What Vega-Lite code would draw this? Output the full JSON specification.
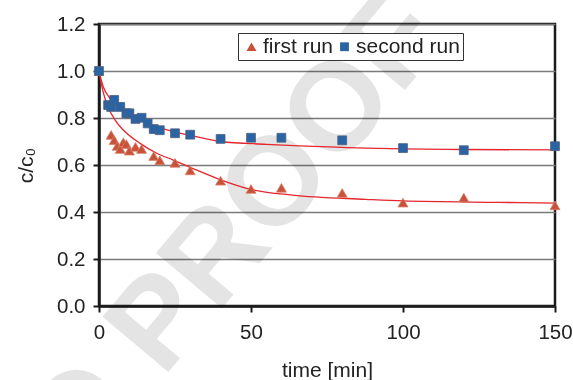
{
  "$schema": "https://vega.github.io/schema/vega-lite/v6.json",
  "autosize": "none",
  "width": 456,
  "height": 282,
  "padding": {"left": 99, "top": 24, "right": 18, "bottom": 74},
  "background": "white",
  "config": {
    "font": "Liberation Sans",
    "view": {"stroke": "#1a1a1a", "strokeWidth": 2.5},
    "axis": {
      "labelFont": "Liberation Sans",
      "titleFont": "Liberation Sans",
      "labelFontSize": 20.5,
      "titleFontSize": 21,
      "titleFontWeight": "normal",
      "labelColor": "#222",
      "titleColor": "#222",
      "domainColor": "#1a1a1a",
      "domainWidth": 2.5,
      "tickColor": "#1a1a1a",
      "tickWidth": 2,
      "tickSize": 6,
      "gridColor": "#7a7a7a",
      "gridWidth": 1.5,
      "labelFlush": false
    },
    "legend": {
      "labelFont": "Liberation Sans",
      "labelFontSize": 21,
      "labelColor": "#222"
    }
  },
  "datasets": {
    "points": [
      {"t": 0, "v": 1.0, "run": "first run"},
      {"t": 4, "v": 0.728, "run": "first run"},
      {"t": 5, "v": 0.706, "run": "first run"},
      {"t": 6, "v": 0.681, "run": "first run"},
      {"t": 7, "v": 0.668, "run": "first run"},
      {"t": 8, "v": 0.697, "run": "first run"},
      {"t": 9, "v": 0.689, "run": "first run"},
      {"t": 10, "v": 0.661, "run": "first run"},
      {"t": 12, "v": 0.677, "run": "first run"},
      {"t": 14, "v": 0.668, "run": "first run"},
      {"t": 18, "v": 0.638, "run": "first run"},
      {"t": 20, "v": 0.62, "run": "first run"},
      {"t": 25, "v": 0.609, "run": "first run"},
      {"t": 30, "v": 0.577, "run": "first run"},
      {"t": 40, "v": 0.533, "run": "first run"},
      {"t": 50, "v": 0.498, "run": "first run"},
      {"t": 60, "v": 0.503, "run": "first run"},
      {"t": 80, "v": 0.481, "run": "first run"},
      {"t": 100, "v": 0.44, "run": "first run"},
      {"t": 120, "v": 0.461, "run": "first run"},
      {"t": 150, "v": 0.428, "run": "first run"},
      {"t": 0, "v": 1.0, "run": "second run"},
      {"t": 3, "v": 0.855, "run": "second run"},
      {"t": 4, "v": 0.847, "run": "second run"},
      {"t": 5, "v": 0.877, "run": "second run"},
      {"t": 7, "v": 0.847, "run": "second run"},
      {"t": 9, "v": 0.82, "run": "second run"},
      {"t": 10, "v": 0.82, "run": "second run"},
      {"t": 12, "v": 0.796, "run": "second run"},
      {"t": 14, "v": 0.801, "run": "second run"},
      {"t": 16, "v": 0.777, "run": "second run"},
      {"t": 18, "v": 0.753, "run": "second run"},
      {"t": 20, "v": 0.748, "run": "second run"},
      {"t": 25, "v": 0.735, "run": "second run"},
      {"t": 30, "v": 0.729, "run": "second run"},
      {"t": 40, "v": 0.711, "run": "second run"},
      {"t": 50, "v": 0.716, "run": "second run"},
      {"t": 60, "v": 0.716, "run": "second run"},
      {"t": 80, "v": 0.705, "run": "second run"},
      {"t": 100, "v": 0.672, "run": "second run"},
      {"t": 120, "v": 0.663, "run": "second run"},
      {"t": 150, "v": 0.68, "run": "second run"}
    ],
    "fits": [
      {"t": 0, "v": 1.0, "run": "first run"},
      {"t": 1, "v": 0.93, "run": "first run"},
      {"t": 2.5, "v": 0.862, "run": "first run"},
      {"t": 5.3, "v": 0.791, "run": "first run"},
      {"t": 8, "v": 0.749, "run": "first run"},
      {"t": 13.5, "v": 0.692, "run": "first run"},
      {"t": 19, "v": 0.65, "run": "first run"},
      {"t": 24.4, "v": 0.621, "run": "first run"},
      {"t": 30, "v": 0.59, "run": "first run"},
      {"t": 40, "v": 0.537, "run": "first run"},
      {"t": 50, "v": 0.496, "run": "first run"},
      {"t": 63.6, "v": 0.472, "run": "first run"},
      {"t": 87.7, "v": 0.454, "run": "first run"},
      {"t": 100, "v": 0.447, "run": "first run"},
      {"t": 131.6, "v": 0.441, "run": "first run"},
      {"t": 150, "v": 0.438, "run": "first run"},
      {"t": 0, "v": 1.0, "run": "second run"},
      {"t": 1.4, "v": 0.933, "run": "second run"},
      {"t": 3.6, "v": 0.884, "run": "second run"},
      {"t": 8, "v": 0.834, "run": "second run"},
      {"t": 13.5, "v": 0.791, "run": "second run"},
      {"t": 19, "v": 0.763, "run": "second run"},
      {"t": 24.4, "v": 0.742, "run": "second run"},
      {"t": 30, "v": 0.726, "run": "second run"},
      {"t": 40, "v": 0.7, "run": "second run"},
      {"t": 55, "v": 0.688, "run": "second run"},
      {"t": 66, "v": 0.681, "run": "second run"},
      {"t": 88, "v": 0.672, "run": "second run"},
      {"t": 100, "v": 0.669, "run": "second run"},
      {"t": 120, "v": 0.666, "run": "second run"},
      {"t": 150, "v": 0.664, "run": "second run"}
    ]
  },
  "layer": [
    {
      "data": {"values": [{"label": "UNCORRECTED PROOF"}]},
      "mark": {"type": "text", "font": "Liberation Sans", "fontWeight": "bold", "fontSize": 125, "angle": -50, "align": "right", "baseline": "alphabetic", "color": "#e4e4e4", "blend": "multiply"},
      "encoding": {
        "x": {"datum": 115},
        "y": {"datum": 1.14},
        "text": {"field": "label"}
      }
    },
    {
      "data": {"name": "fits"},
      "mark": {"type": "line", "color": "#e5262d", "strokeWidth": 1.3, "interpolate": "monotone", "clip": true},
      "encoding": {
        "x": {"field": "t", "type": "quantitative"},
        "y": {"field": "v", "type": "quantitative"},
        "detail": {"field": "run"}
      }
    },
    {
      "data": {"name": "points"},
      "mark": {"type": "point", "filled": true, "opacity": 1, "strokeWidth": 0.8},
      "encoding": {
        "x": {
          "field": "t", "type": "quantitative",
          "scale": {"domain": [0, 150], "nice": false, "zero": false},
          "axis": {"values": [0, 50, 100, 150], "title": "time [min]", "grid": false, "labelPadding": 10, "titlePadding": 17}
        },
        "y": {
          "field": "v", "type": "quantitative",
          "scale": {"domain": [0, 1.2], "nice": false},
          "axis": {"values": [0, 0.2, 0.4, 0.6, 0.8, 1.0, 1.2], "format": ".1f", "title": "c/c₀", "grid": true, "labelPadding": 8, "titlePadding": 20}
        },
        "color": {
          "field": "run", "type": "nominal",
          "scale": {"domain": ["first run", "second run"], "range": ["#c8513a", "#2a64a5"]},
          "legend": {
            "title": null, "orient": "none", "legendX": 139, "legendY": 9,
            "direction": "horizontal", "strokeColor": "#333", "fillColor": "white",
            "padding": 3, "symbolSize": 45, "symbolOffset": 0, "labelOffset": 1, "columnPadding": 0,
            "symbolStrokeWidth": 0
          }
        },
        "shape": {
          "field": "run", "type": "nominal",
          "scale": {"domain": ["first run", "second run"], "range": ["triangle-up", "square"]},
          "legend": null
        },
        "size": {
          "field": "run", "type": "nominal",
          "scale": {"domain": ["first run", "second run"], "range": [100, 78]},
          "legend": null
        },
        "stroke": {
          "field": "run", "type": "nominal",
          "scale": {"domain": ["first run", "second run"], "range": ["#d9806a", "#4d5f7d"]},
          "legend": null
        }
      }
    }
  ]
}
